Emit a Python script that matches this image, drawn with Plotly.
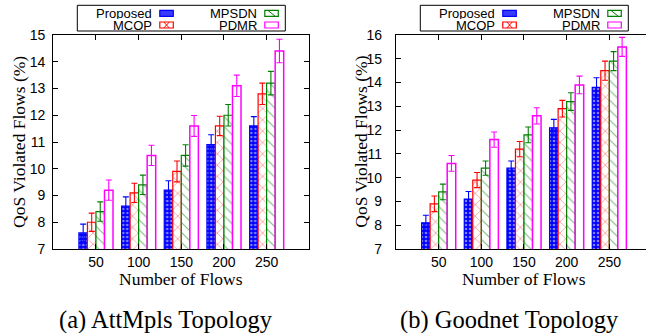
import plotly.graph_objects as go

# ---------------- data ----------------
flows = ["50", "100", "150", "200", "250"]
series = ["Proposed", "MCOP", "MPSDN", "PDMR"]

att_proposed = [7.6, 8.6, 9.2, 10.9, 11.6]
att_mcop = [8.0, 9.1, 9.9, 11.6, 12.8]
att_mpsdn = [8.4, 9.4, 10.5, 12.0, 13.2]
att_pdmr = [9.2, 10.5, 11.6, 13.1, 14.4]
att_proposed_err = [0.33, 0.35, 0.35, 0.37, 0.35]
att_mcop_err = [0.34, 0.36, 0.39, 0.36, 0.40]
att_mpsdn_err = [0.36, 0.36, 0.40, 0.40, 0.44]
att_pdmr_err = [0.38, 0.38, 0.39, 0.40, 0.44]

good_proposed = [8.1, 9.1, 10.4, 12.1, 13.8]
good_mcop = [8.9, 9.9, 11.2, 12.9, 14.5]
good_mpsdn = [9.4, 10.4, 11.8, 13.2, 14.9]
good_pdmr = [10.6, 11.6, 12.6, 13.9, 15.5]
good_proposed_err = [0.32, 0.32, 0.30, 0.35, 0.40]
good_mcop_err = [0.33, 0.32, 0.32, 0.35, 0.40]
good_mpsdn_err = [0.33, 0.30, 0.33, 0.37, 0.40]
good_pdmr_err = [0.33, 0.32, 0.34, 0.37, 0.40]

y_title = "QoS Violated Flows (%)"
x_title = "Number of Flows"
captions = ["(a) AttMpls Topology", "(b) Goodnet Topology"]

# ---------------- styles ----------------
W, H = 646, 333
BLUE, RED, GREEN, MAG = "#0000ff", "#ff0000", "#008000", "#ff00ff"
SANS = "Liberation Sans, Arial, sans-serif"
SERIF = "Liberation Serif, Times New Roman, serif"

styles = {
    "Proposed": dict(color=BLUE, pattern=dict(shape=".", fgcolor="white", bgcolor=BLUE, size=4, solidity=0.35)),
    "MCOP": dict(color=RED, pattern=dict(shape="x", fgcolor=RED, bgcolor="white", size=8, solidity=0.16)),
    "MPSDN": dict(color=GREEN, pattern=dict(shape="\\", fgcolor=GREEN, bgcolor="white", size=7, solidity=0.17)),
    "PDMR": dict(color=MAG, pattern=None),
}


def px(x):
    return x / W


def py(y):
    return 1 - y / H


fig = go.Figure()

panels = [
    ("x", "y", [att_proposed, att_mcop, att_mpsdn, att_pdmr],
     [att_proposed_err, att_mcop_err, att_mpsdn_err, att_pdmr_err]),
    ("x2", "y2", [good_proposed, good_mcop, good_mpsdn, good_pdmr],
     [good_proposed_err, good_mcop_err, good_mpsdn_err, good_pdmr_err]),
]

for xa, ya, vals, errs in panels:
    for name, v, e in zip(series, vals, errs):
        st = styles[name]
        if st["pattern"] is None:
            marker = dict(color="white", line=dict(color=st["color"], width=1.5))
        else:
            marker = dict(color=st["pattern"]["bgcolor"], pattern=st["pattern"],
                          line=dict(color=st["color"], width=1.2))
        fig.add_trace(go.Bar(
            x=flows, y=v, name=name, xaxis=xa, yaxis=ya, marker=marker,
            error_y=dict(type="data", array=e, visible=True, color=st["color"],
                         thickness=1.1, width=3),
            showlegend=False,
        ))

axis_common = dict(
    showline=True, linecolor="black", linewidth=1.2, ticks="inside", ticklen=5,
    tickcolor="black", tickwidth=1, showgrid=False, zeroline=False, automargin=False,
    tickfont=dict(family=SANS, size=14, color="black"),
)

ydom = [py(249), py(35)]
fig.update_layout(
    width=W, height=H, autosize=False,
    margin=dict(l=0, r=0, t=0, b=0, pad=0),
    paper_bgcolor="white", plot_bgcolor="white",
    barmode="group", bargap=0.2, bargroupgap=0.0,
    xaxis=dict(domain=[px(53.3), px(309.3)], type="category", range=[-1, 5],
               anchor="y", mirror="ticks", **axis_common),
    yaxis=dict(domain=ydom, range=[7, 15], dtick=1, anchor="x", mirror="ticks",
               ticklabelstandoff=4, **axis_common),
    xaxis2=dict(domain=[px(396), 1.0], type="category", range=[-1, 4.86],
                anchor="y2", mirror="ticks", **axis_common),
    yaxis2=dict(domain=ydom, range=[7, 16], dtick=1, anchor="x2", mirror=False,
                ticklabelstandoff=10, **axis_common),
)

shapes = []
annotations = []

plot_centers = [181.3, 524.3]
for i, cx in enumerate(plot_centers):
    # axis titles
    annotations.append(dict(x=px(cx), y=py(279), xref="paper", yref="paper",
                            text=x_title, showarrow=False, xanchor="center", yanchor="middle",
                            font=dict(family=SERIF, size=17.5, color="black")))
    annotations.append(dict(x=px(cx - 15), y=py(320), xref="paper", yref="paper",
                            text=captions[i], showarrow=False, xanchor="center", yanchor="middle",
                            font=dict(family=SERIF, size=24.5, color="black")))
    # legend box
    bl = cx - 104
    shapes.append(dict(type="rect", xref="paper", yref="paper",
                       x0=px(bl), x1=px(bl + 208), y0=py(31), y1=py(5.3),
                       line=dict(color="black", width=1), fillcolor="white"))
    entries = [("Proposed", 0, 0), ("MCOP", 0, 1), ("MPSDN", 1, 0), ("PDMR", 1, 1)]
    for name, col, row in entries:
        yc = 13.3 if row == 0 else 25.0
        text_end = bl + (75.8 if col == 0 else 180.2)
        sw0 = bl + (82.5 if col == 0 else 187.5)
        sw1 = sw0 + 13.5
        annotations.append(dict(x=px(text_end), y=py(yc), xref="paper", yref="paper",
                                text=name, showarrow=False, xanchor="right", yanchor="middle",
                                borderpad=0, height=12,
                                font=dict(family=SANS, size=13, color="black")))
        c = styles[name]["color"]
        fill = {"Proposed": "#3a3aff", "MCOP": "white", "MPSDN": "white", "PDMR": "white"}[name]
        shapes.append(dict(type="rect", xref="paper", yref="paper",
                           x0=px(sw0), x1=px(sw1), y0=py(yc + 3), y1=py(yc - 3),
                           line=dict(color=c, width=1.2), fillcolor=fill))
        if name == "MCOP":
            for a, b in [((sw0 + 4, yc - 3), (sw1 - 4, yc + 3)), ((sw0 + 4, yc + 3), (sw1 - 4, yc - 3))]:
                shapes.append(dict(type="line", xref="paper", yref="paper",
                                   x0=px(a[0]), y0=py(a[1]), x1=px(b[0]), y1=py(b[1]),
                                   line=dict(color=c, width=1)))
        if name == "MPSDN":
            shapes.append(dict(type="line", xref="paper", yref="paper",
                               x0=px(sw0 + 3), y0=py(yc - 3), x1=px(sw1 - 3), y1=py(yc + 3),
                               line=dict(color=c, width=1)))

for xc in [19, 360.7]:
    annotations.append(dict(x=px(xc), y=py(142), xref="paper", yref="paper",
                            text=y_title, showarrow=False, textangle=-90,
                            xanchor="center", yanchor="middle",
                            font=dict(family=SERIF, size=17.5, color="black")))

fig.update_layout(shapes=shapes, annotations=annotations)
fig.write_html(
    "out.html",
    config={"displayModeBar": False},
    post_script="document.body.style.margin='0';document.body.style.overflow='hidden';",
)
